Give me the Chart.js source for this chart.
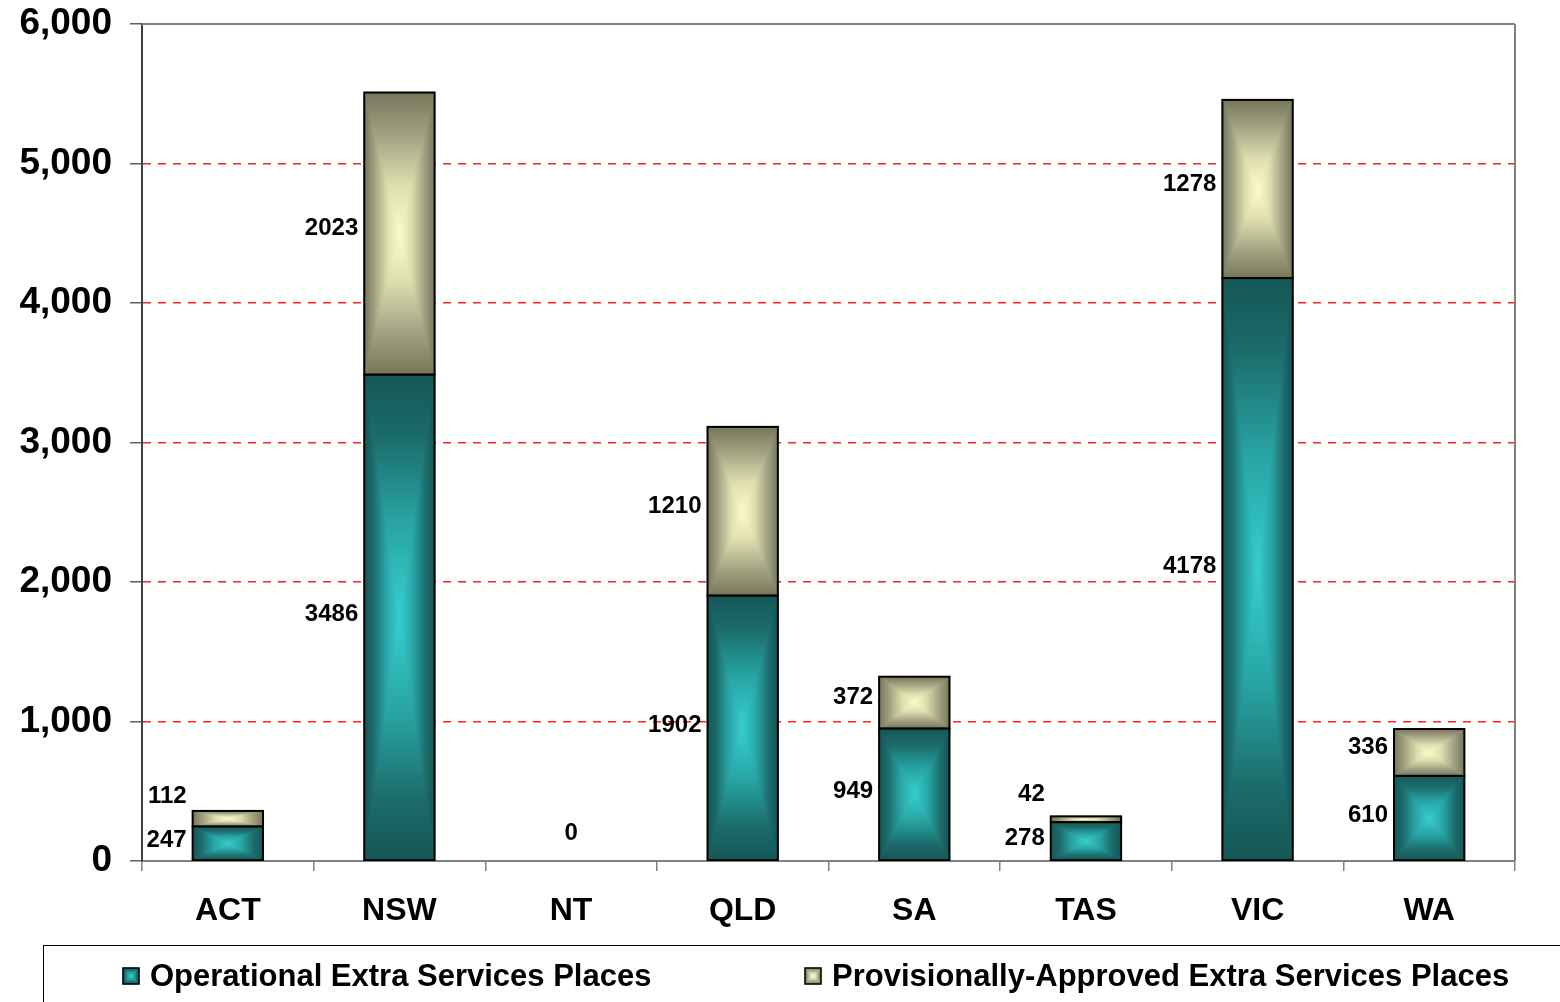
<!DOCTYPE html>
<html>
<head>
<meta charset="utf-8">
<title>Extra Services Places by State</title>
<script src="https://cdn.jsdelivr.net/npm/chart.js@4.4.1/dist/chart.umd.min.js"></script>
<style>
  body { margin: 0; background: #fff; }
  #wrap { width: 1560px; height: 1002px; overflow: hidden; }
</style>
</head>
<body>
<div id="wrap"><canvas id="placesChart" width="1560" height="1002"></canvas></div>
<script>
// places per state / territory
var states = ['ACT', 'NSW', 'NT', 'QLD', 'SA', 'TAS', 'VIC', 'WA'];
var operationalPlaces = [247, 3486, 0, 1902, 949, 278, 4178, 610];
var provisionalPlaces = [112, 2023, 0, 1210, 372, 42, 1278, 336];
var seriesNames = ['Operational Extra Services Places', 'Provisionally-Approved Extra Services Places'];
var yMax = 6000;
var yStep = 1000;

var FONT = '"Liberation Sans", Arial, Helvetica, sans-serif';

// colour ramps from the bar edge (0) to the bar centre (1)
var tealRamp = [[0, '#165656'], [0.25, '#1c6b6b'], [0.6, '#28a3a3'], [1, '#36cfcf']];
var khakiRamp = [[0, '#76765b'], [0.3, '#a2a282'], [0.65, '#dcdcae'], [1, '#fdfdca']];
var ramps = [tealRamp, khakiRamp];

function makeGrad(ctx, x0, y0, x1, y1, ramp) {
    var g = ctx.createLinearGradient(x0, y0, x1, y1);
    ramp.forEach(function(s) { g.addColorStop(s[0], s[1]); });
    return g;
}

// fills a rectangle with a "pyramid" gradient: dark on every edge, bright in the middle
function paintPyramid(ctx, l, t, w, h, ramp) {
    var r = l + w, b = t + h, cx = l + w / 2, cy = t + h / 2;
    ctx.save();
    ctx.fillStyle = ramp[1][1];
    ctx.fillRect(l, t, w, h);
    var tris = [
        [[l, t], [r, t], makeGrad(ctx, cx, t, cx, cy, ramp)],
        [[r, b], [l, b], makeGrad(ctx, cx, b, cx, cy, ramp)],
        [[l, b], [l, t], makeGrad(ctx, l, cy, cx, cy, ramp)],
        [[r, t], [r, b], makeGrad(ctx, r, cy, cx, cy, ramp)]
    ];
    tris.forEach(function(tr) {
        ctx.beginPath();
        ctx.moveTo(tr[0][0], tr[0][1]);
        ctx.lineTo(tr[1][0], tr[1][1]);
        ctx.lineTo(cx, cy);
        ctx.closePath();
        ctx.fillStyle = tr[2];
        ctx.fill();
        ctx.strokeStyle = tr[2];
        ctx.lineWidth = 0.6;
        ctx.stroke();
    });
    ctx.restore();
}

// repaint each bar with its gradient and outline
var barShading = {
    id: 'barShading',
    afterDatasetDraw: function(chart, args) {
        var ctx = chart.ctx;
        var ramp = ramps[args.index];
        args.meta.data.forEach(function(bar) {
            var p = bar.getProps(['x', 'y', 'base', 'width'], true);
            var top = Math.min(p.y, p.base), h = Math.abs(p.base - p.y);
            if (h < 1) return;
            var left = p.x - p.width / 2;
            ctx.save();
            ctx.beginPath();
            ctx.rect(chart.chartArea.left, chart.chartArea.top, chart.chartArea.width, chart.chartArea.height);
            ctx.clip();
            paintPyramid(ctx, left, top, p.width, h, ramp);
            ctx.strokeStyle = '#000';
            ctx.lineWidth = 2;
            ctx.strokeRect(left, top, p.width, h);
            ctx.restore();
        });
    }
};

// top and right edges of the plot area
var plotFrame = {
    id: 'plotFrame',
    beforeDatasetsDraw: function(chart) {
        var a = chart.chartArea, ctx = chart.ctx;
        ctx.save();
        ctx.strokeStyle = '#808080';
        ctx.lineWidth = 2;
        ctx.beginPath();
        ctx.moveTo(a.left, a.top);
        ctx.lineTo(a.right, a.top);
        ctx.moveTo(a.right, a.top);
        ctx.lineTo(a.right, a.bottom);
        ctx.stroke();
        ctx.restore();
    }
};

// value labels to the left of each segment
var barLabels = {
    id: 'barLabels',
    afterDatasetsDraw: function(chart) {
        var ctx = chart.ctx;
        var lowMeta = chart.getDatasetMeta(0), highMeta = chart.getDatasetMeta(1);
        ctx.save();
        ctx.font = 'bold 24px ' + FONT;
        ctx.fillStyle = '#000';
        ctx.textBaseline = 'middle';
        lowMeta.data.forEach(function(bar, i) {
            var low = chart.data.datasets[0].data[i];
            var high = chart.data.datasets[1].data[i];
            var hb = highMeta.data[i];
            if (low + high === 0) {
                ctx.textAlign = 'center';
                ctx.fillText(String(low), bar.x, bar.base - 28);
                return;
            }
            var x = bar.x - bar.width / 2 - 6;
            var yLow = (bar.y + bar.base) / 2 - 3;
            var yHigh = (hb.y + hb.base) / 2 - 5;
            if (yLow - yHigh < 44) yHigh = yLow - 44;
            ctx.textAlign = 'right';
            ctx.fillText(String(low), x, yLow);
            ctx.fillText(String(high), x, yHigh);
        });
        ctx.restore();
    }
};

// boxed legend along the bottom
var legendBox = {
    id: 'legendBox',
    afterDraw: function(chart) {
        var ctx = chart.ctx;
        var itemX = [123, 805];
        ctx.save();
        ctx.strokeStyle = '#000';
        ctx.lineWidth = 1;
        ctx.strokeRect(43.5, 945.5, 1600, 100);
        ctx.font = 'bold 31px ' + FONT;
        ctx.fillStyle = '#000';
        ctx.textBaseline = 'middle';
        ctx.textAlign = 'left';
        chart.data.datasets.forEach(function(ds, i) {
            paintPyramid(ctx, itemX[i], 968, 16, 16, ramps[i]);
            ctx.strokeStyle = '#000';
            ctx.lineWidth = 1.5;
            ctx.strokeRect(itemX[i], 968, 16, 16);
            ctx.fillStyle = '#000';
            ctx.fillText(ds.label, itemX[i] + 27, 977);
        });
        ctx.restore();
    }
};

var ctx = document.getElementById('placesChart');
var placesChart = new Chart(ctx, {
    type: 'bar',
    data: {
        labels: states,
        datasets: [{
            label: seriesNames[0],
            data: operationalPlaces,
            backgroundColor: '#28a3a3',
            borderColor: '#000',
            borderWidth: 2,
            categoryPercentage: 1,
            barPercentage: 0.41
        }, {
            label: seriesNames[1],
            data: provisionalPlaces,
            backgroundColor: '#dcdcae',
            borderColor: '#000',
            borderWidth: 2,
            categoryPercentage: 1,
            barPercentage: 0.41
        }]
    },
    options: {
        responsive: false,
        animation: false,
        devicePixelRatio: 1,
        layout: { padding: { top: 24, left: 0, right: 45, bottom: 0 } },
        plugins: {
            legend: { display: false },
            tooltip: { enabled: false }
        },
        scales: {
            x: {
                stacked: true,
                grid: {
                    offset: true,
                    drawOnChartArea: false,
                    tickLength: 10,
                    color: '#808080',
                    lineWidth: 1.5
                },
                border: { color: '#808080', width: 2 },
                ticks: {
                    color: '#000',
                    padding: 21,
                    font: { family: FONT, size: 32, weight: 'bold' }
                },
                afterFit: function(scale) {
                    scale.height = 141;
                    scale.paddingLeft = 0;
                    scale.paddingRight = 0;
                }
            },
            y: {
                stacked: true,
                min: 0,
                max: yMax,
                ticks: {
                    stepSize: yStep,
                    color: '#000',
                    padding: 18,
                    font: { family: FONT, size: 37, weight: 'bold' }
                },
                grid: {
                    tickLength: 12,
                    lineWidth: 1.5,
                    color: function(c) {
                        var v = c.tick ? c.tick.value : 0;
                        return (v === 0 || v === yMax) ? 'rgba(0,0,0,0)' : '#ff2020';
                    },
                    tickColor: '#606060',
                    tickWidth: 1.5,
                    tickBorderDash: []
                },
                border: { color: '#404040', width: 2, dash: [8, 7] },
                afterFit: function(scale) {
                    scale.width = 142;
                    scale.paddingTop = 0;
                    scale.paddingBottom = 0;
                }
            }
        }
    },
    plugins: [plotFrame, barShading, barLabels, legendBox]
});
</script>
</body>
</html>
